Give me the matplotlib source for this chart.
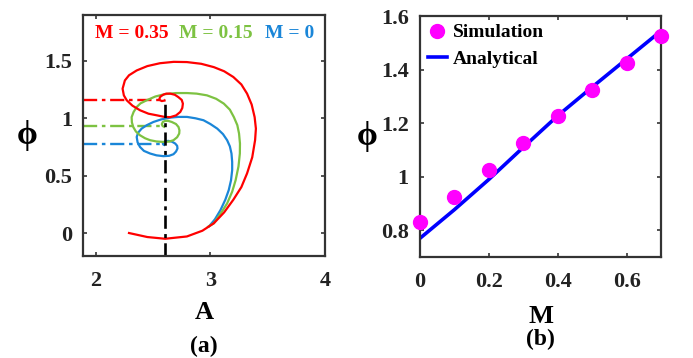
import numpy as np
import matplotlib
matplotlib.use("Agg")
import matplotlib.pyplot as plt

plt.rcParams['font.family'] = ['Liberation Serif', 'DejaVu Serif']
plt.rcParams['font.weight'] = 'bold'
plt.rcParams['mathtext.default'] = 'regular'

# ---- panel (a): phase trajectories (A, phi) ----
red_A = [2.29, 2.45, 2.605, 2.795, 2.93, 3.03, 3.12, 3.20, 3.27, 3.32, 3.365, 3.39, 3.397, 3.386,
         3.36, 3.32, 3.27, 3.20, 3.12, 3.03, 2.92, 2.795, 2.68, 2.56, 2.45, 2.357, 2.29, 2.254,
         2.234, 2.245, 2.27, 2.32, 2.386, 2.46, 2.532, 2.60, 2.65, 2.70, 2.737, 2.755, 2.76,
         2.75, 2.72, 2.69, 2.65, 2.615, 2.59, 2.565, 2.555, 2.56, 2.576, 2.60]
red_phi = [0.0, -0.035, -0.05, -0.03, 0.02, 0.085, 0.18, 0.29, 0.40, 0.52, 0.66, 0.81, 0.91, 1.01,
           1.12, 1.215, 1.295, 1.36, 1.41, 1.446, 1.475, 1.49, 1.492, 1.48, 1.455, 1.417, 1.375,
           1.33, 1.258, 1.20, 1.157, 1.11, 1.07, 1.04, 1.026, 1.012, 1.01, 1.025, 1.055, 1.09,
           1.128, 1.16, 1.185, 1.205, 1.215, 1.215, 1.206, 1.19, 1.171, 1.158, 1.15, 1.155]

green_A = [2.98, 3.03, 3.09, 3.146, 3.19, 3.22, 3.245, 3.257, 3.258, 3.25, 3.235, 3.205, 3.17,
           3.117, 3.05, 2.97, 2.88, 2.796, 2.70, 2.60, 2.52, 2.444, 2.39, 2.357, 2.33, 2.313,
           2.315, 2.327, 2.35, 2.386, 2.43, 2.474, 2.53, 2.59, 2.64, 2.678, 2.71, 2.728, 2.73,
           2.722, 2.70, 2.663, 2.63, 2.605, 2.585, 2.576, 2.583, 2.596]
green_phi = [0.055, 0.085, 0.17, 0.258, 0.36, 0.46, 0.58, 0.693, 0.78, 0.867, 0.94, 1.01, 1.075,
             1.128, 1.17, 1.20, 1.215, 1.22, 1.22, 1.21, 1.19, 1.157, 1.13, 1.098, 1.055, 1.01,
             0.965, 0.924, 0.885, 0.852, 0.826, 0.809, 0.798, 0.794, 0.797, 0.809, 0.835, 0.867,
             0.895, 0.924, 0.95, 0.968, 0.978, 0.977, 0.968, 0.948, 0.933, 0.926]

blue_A = [2.99, 3.04, 3.088, 3.13, 3.16, 3.18, 3.19, 3.19, 3.184, 3.17, 3.146, 3.11, 3.06, 3.00,
          2.94, 2.87, 2.796, 2.72, 2.65, 2.57, 2.503, 2.445, 2.40, 2.37, 2.357, 2.365, 2.386,
          2.42, 2.474, 2.53, 2.59, 2.64, 2.678, 2.70, 2.713, 2.71, 2.693, 2.665, 2.634, 2.605,
          2.585, 2.588, 2.596]
blue_phi = [0.06, 0.12, 0.2, 0.29, 0.374, 0.46, 0.548, 0.62, 0.693, 0.755, 0.809, 0.862, 0.91,
            0.95, 0.983, 1.0, 1.012, 1.012, 1.006, 0.99, 0.968, 0.94, 0.91, 0.875, 0.837, 0.79,
            0.75, 0.716, 0.693, 0.677, 0.67, 0.673, 0.687, 0.71, 0.737, 0.76, 0.78, 0.796,
            0.803, 0.80, 0.785, 0.772, 0.768]

# equilibrium phases (dash-dot guides) and equilibrium amplitude
phi_eq = [1.163, 0.93, 0.774]
A_eq = 2.605
curve_colors = ['#FF0000', '#7DC242', '#1A86D8']
curve_labels = ['M = 0.35', 'M = 0.15', 'M = 0']

# ---- panel (b): equilibrium phase vs M ----
M_sim = [0, 0.1, 0.2, 0.3, 0.4, 0.5, 0.6, 0.7]
phi_sim = [0.83, 0.925, 1.025, 1.125, 1.225, 1.325, 1.425, 1.527]
M_an = [0, 0.1, 0.2, 0.3, 0.4, 0.5, 0.6, 0.7]
phi_an = [0.77, 0.877, 0.99, 1.11, 1.228, 1.335, 1.44, 1.545]

fig = plt.figure(figsize=(6.93, 3.58), dpi=100)
ax1 = fig.add_axes([0.120, 0.285, 0.349, 0.673])
ax2 = fig.add_axes([0.606, 0.282, 0.348, 0.673])

for ax in (ax1, ax2):
    for s in ax.spines.values():
        s.set_linewidth(1.6)
        s.set_color('#333333')
    ax.tick_params(direction='in', length=3, width=1.2, colors='#333333',
                   top=True, right=True, labelsize=16, labelcolor='#222222', pad=11)
    ax.tick_params(axis='y', pad=8)

# panel (a)
xs = [red_A, green_A, blue_A]
ys = [red_phi, green_phi, blue_phi]
for i in [2, 1, 0]:
    ax1.plot([1.89, A_eq], [phi_eq[i], phi_eq[i]], color=curve_colors[i], lw=1.7,
             ls=(0, (6, 2, 1.5, 2)))
for i in [2, 1, 0]:
    ax1.plot(xs[i], ys[i], color=curve_colors[i], lw=1.6)
ax1.plot([A_eq, A_eq], [-0.2, phi_eq[0]], color='black', lw=1.9, ls=(0, (5, 2, 1.5, 2)))

lab_x = [2.316, 3.05, 3.69]
for i in range(3):
    ax1.text(lab_x[i], 1.74, curve_labels[i], color=curve_colors[i], fontsize=14,
             fontweight='bold', ha='center', va='center')

ax1.set_xlim(1.89, 4)
ax1.set_ylim(-0.2, 1.9)
ax1.set_xticks([2, 3, 4])
ax1.set_xticklabels(['2', '3', '4'])
ax1.set_yticks([0, 0.5, 1, 1.5])
ax1.set_yticklabels(['0', '0.5', '1', '1.5'])
ax1.set_xlabel('A', fontsize=19, fontweight='bold', labelpad=7)
ax1.set_ylabel('ϕ', fontsize=24, fontweight='bold', rotation=0, labelpad=12, va='center')
ax1.text(0.5, -0.375, '(a)', transform=ax1.transAxes, ha='center', va='center',
         fontsize=17, fontweight='bold')

# panel (b)
ax2.plot(M_an, phi_an, color='#0000FF', lw=2.6, label='Analytical', zorder=2)
ax2.plot(M_sim, phi_sim, 'o', color='#FF00FF', ms=10, label='Simulation', zorder=3,
         clip_on=False)
ax2.set_xlim(0, 0.7)
ax2.set_ylim(0.7, 1.6)
ax2.set_xticks([0, 0.2, 0.4, 0.6])
ax2.set_xticklabels(['0', '0.2', '0.4', '0.6'])
ax2.set_yticks([0.8, 1, 1.2, 1.4, 1.6])
ax2.set_yticklabels(['0.8', '1', '1.2', '1.4', '1.6'])
ax2.set_xlabel('M', fontsize=19, fontweight='bold', labelpad=9)
ax2.set_ylabel('ϕ', fontsize=24, fontweight='bold', rotation=0, labelpad=10, va='center')
ax2.text(0.5, -0.34, '(b)', transform=ax2.transAxes, ha='center', va='center',
         fontsize=17, fontweight='bold')
h, l = ax2.get_legend_handles_labels()
ax2.legend(h[::-1], l[::-1], loc='upper left', frameon=False,
           handlelength=1.0, handletextpad=0.3, borderaxespad=0.1, labelspacing=0.45,
           borderpad=0.3, prop={'weight': 'bold', 'size': 14})

fig.savefig('out.png', dpi=100)
